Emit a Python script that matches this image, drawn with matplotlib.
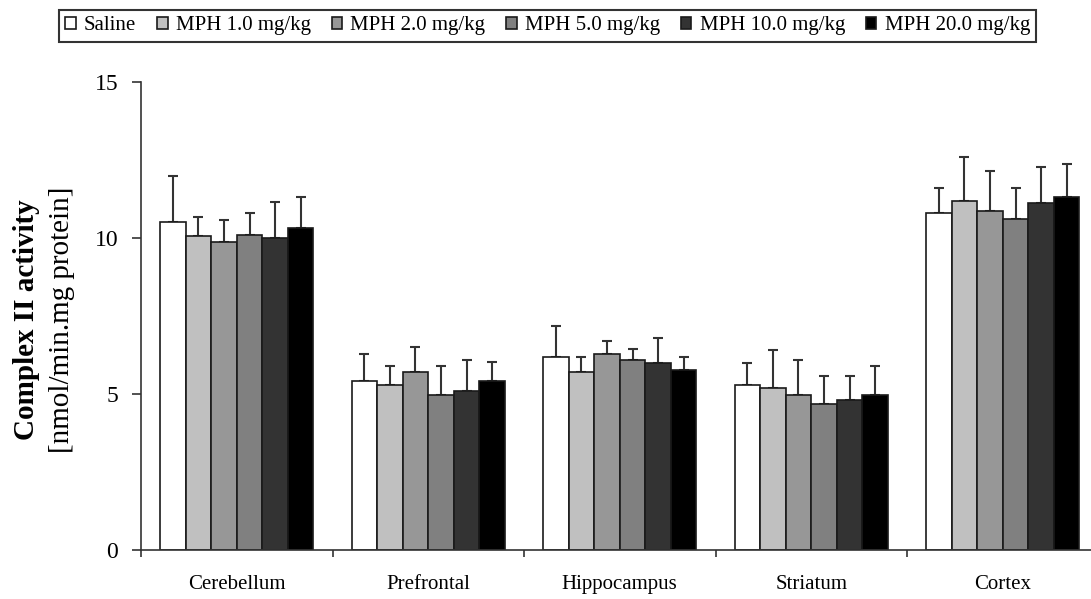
import numpy as np
import matplotlib
matplotlib.use('Agg')
import matplotlib.pyplot as plt

plt.rcParams['font.family'] = ['Liberation Serif', 'DejaVu Serif']

regions = ['Cerebellum', 'Prefrontal', 'Hippocampus', 'Striatum', 'Cortex']
doses = ['Saline', 'MPH 1.0 mg/kg', 'MPH 2.0 mg/kg', 'MPH 5.0 mg/kg',
         'MPH 10.0 mg/kg', 'MPH 20.0 mg/kg']

# mean values per dose, one entry per region
saline = [10.50, 5.42, 6.18, 5.28, 10.81]
mph_1 = [10.08, 5.28, 5.69, 5.18, 11.18]
mph_2 = [9.86, 5.69, 6.27, 4.96, 10.86]
mph_5 = [10.10, 4.96, 6.09, 4.69, 10.60]
mph_10 = [10.00, 5.11, 6.00, 4.80, 11.13]
mph_20 = [10.32, 5.43, 5.78, 4.98, 11.31]

# standard deviations (upper error bars)
saline_sd = [1.48, 0.85, 1.00, 0.72, 0.80]
mph_1_sd = [0.58, 0.63, 0.49, 1.22, 1.43]
mph_2_sd = [0.72, 0.81, 0.44, 1.13, 1.29]
mph_5_sd = [0.71, 0.95, 0.35, 0.90, 1.01]
mph_10_sd = [1.16, 0.98, 0.80, 0.79, 1.16]
mph_20_sd = [0.98, 0.61, 0.40, 0.93, 1.07]

means = [saline, mph_1, mph_2, mph_5, mph_10, mph_20]
sds = [saline_sd, mph_1_sd, mph_2_sd, mph_5_sd, mph_10_sd, mph_20_sd]
colors = ['#ffffff', '#c0c0c0', '#979797', '#808080', '#333333', '#000000']

fig = plt.figure(figsize=(10.91, 5.99), dpi=100)
ax = fig.add_axes([141 / 1091, 49 / 599, 957.5 / 1091, 468 / 599])

x = np.arange(len(regions))
n = len(doses)
width = 0.8 / n

handles = []
for i in range(n):
    pos = x - 0.4 + width * (i + 0.5)
    b = ax.bar(pos, means[i], width, color=colors[i], edgecolor='#1a1a1a',
               linewidth=1.2, zorder=2, label=doses[i])
    ax.errorbar(pos, means[i], yerr=[np.zeros(len(regions)), sds[i]],
                fmt='none', ecolor='#333333', elinewidth=1.5, capsize=3.5,
                capthick=1.5, zorder=1)
    handles.append(b)

ax.set_xlim(-0.5, 4.5)
ax.set_ylim(0, 15)
ax.set_yticks([0, 5, 10, 15])
ax.tick_params(axis='y', direction='out', length=6.5, width=1.2,
               labelsize=17, pad=10, color='#333333')

ax.set_xticks(np.arange(-0.5, 5.0, 1.0))
ax.set_xticklabels([])
ax.tick_params(axis='x', which='major', direction='out', length=5,
               width=1.2, color='#333333')
ax.set_xticks(x, minor=True)
ax.set_xticklabels(regions, minor=True, fontsize=15)
ax.tick_params(axis='x', which='minor', length=0, pad=18)

for side in ['top', 'right']:
    ax.spines[side].set_visible(False)
for side in ['left', 'bottom']:
    ax.spines[side].set_linewidth(1.2)
    ax.spines[side].set_color('#333333')

fig.text(27 / 1091, 1 - 320 / 599, 'Complex II activity', rotation=90,
         ha='center', va='center', fontsize=21, fontweight='bold')
fig.text(62 / 1091, 1 - 320 / 599, '[nmol/min.mg protein]', rotation=90,
         ha='center', va='center', fontsize=21)

leg = fig.legend(handles=handles, loc='center', bbox_to_anchor=(0.502, 0.957),
                 ncol=n, fontsize=15, frameon=True, fancybox=False,
                 handlelength=0.5, handleheight=0.5, handletextpad=0.4,
                 columnspacing=1.0, borderpad=0.3)
leg.get_frame().set_edgecolor('black')
leg.get_frame().set_linewidth(1.5)

fig.savefig('out.png', dpi=100)
